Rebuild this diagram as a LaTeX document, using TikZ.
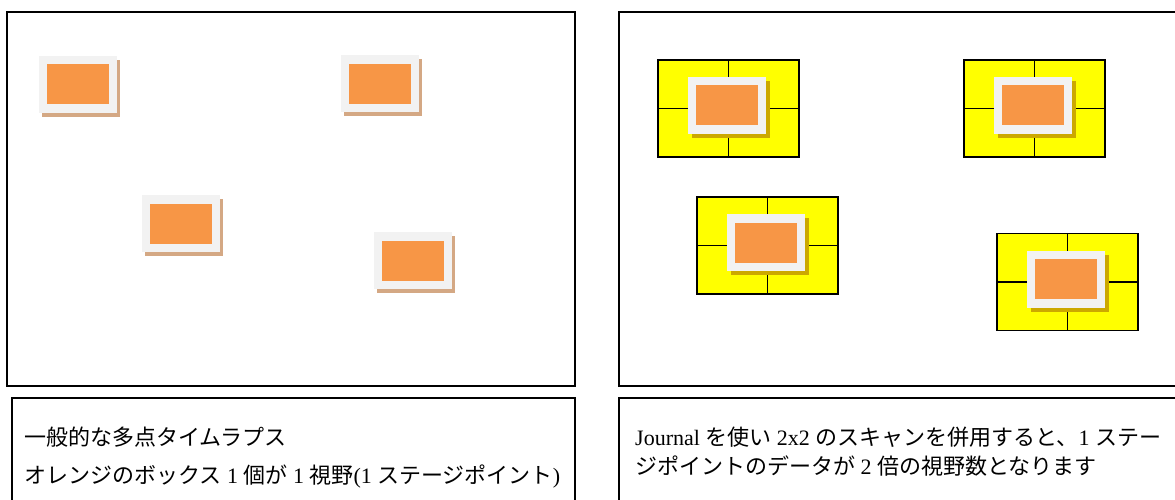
\documentclass[tikz,border=0pt]{standalone}
\usepackage{fontspec}
\setmainfont{Liberation Serif}
\newfontfamily\jp{Noto Sans CJK JP}
\definecolor{frameW}{HTML}{F2F2F2}
\definecolor{orangeF}{HTML}{F79646}
\definecolor{tanS}{HTML}{D4A884}
\definecolor{ylw}{HTML}{FFFF00}
\definecolor{ylwS}{HTML}{CCA800}
\tikzset{
  panel/.style={draw=black, line width=1.5pt, fill=white},
  frameb/.style={fill=frameW, draw=none, minimum width=78pt, minimum height=57pt, inner sep=0pt},
  shadowb/.style={draw=none, minimum width=78pt, minimum height=57pt, inner sep=0pt},
  orangeb/.style={fill=orangeF, draw=none, minimum width=62pt, minimum height=40pt, inner sep=0pt},
  gridb/.style={fill=ylw, draw=black, line width=1.3pt, minimum width=141pt, minimum height=97pt, inner sep=0pt},
  gridline/.style={draw=black, line width=1.3pt},
  txtl/.style={anchor=west, inner sep=0pt, font=\fontsize{22}{26}\selectfont}
}
\begin{document}
\begin{tikzpicture}[x=1pt,y=-1pt]
\useasboundingbox (0,0) rectangle (1175,500);
\clip (0,0) rectangle (1175,500);
% panels
\draw[panel] (7,12) rectangle (575,386);
\draw[panel] (619,12) rectangle (1185,386);
\draw[panel] (12,398) rectangle (575,510);
\draw[panel] (619,398) rectangle (1185,510);
% left markers
\foreach \n/\cx/\cy in {a/78/84.5, b/379.5/84, c/180.5/223.5, d/413/260.5}{
  \node[shadowb, fill=tanS] (s\n) at (\cx+3,\cy+4) {};
  \node[frameb] (f\n) at (\cx,\cy) {};
  \node[orangeb] (o\n) at (f\n.center) {};
}
% right grids
\foreach \n/\cx/\cy in {e/728.5/108.5, f/1034.5/108.5, g/767.5/245.5, h/1067.5/282}{
  \node[gridb] (g\n) at (\cx,\cy) {};
  \draw[gridline] (g\n.north) -- (g\n.south);
  \draw[gridline] (g\n.west) -- (g\n.east);
  \node[shadowb, fill=ylwS] (s\n) at (\cx+2,\cy+1) {};
  \node[frameb] (f\n) at (\cx-2,\cy-3) {};
  \node[orangeb] (o\n) at (f\n.center) {};
}
% texts
\node[txtl] (t1) at (24,437) {\jp 一般的な多点タイムラプス};
\node[txtl] (t2) at (24,476) {{\jp オレンジのボックス} 1 {\jp 個が} 1 {\jp 視野}(1 {\jp ステージポイント})};
\node[txtl] (t3) at (635,437) {Journal {\jp を使い} 2x2 {\jp のスキャンを併用すると、}1 {\jp ステー}};
\node[txtl] (t4) at (635,466) {{\jp ジポイントのデータが} 2 {\jp 倍の視野数となります}};
\end{tikzpicture}
\end{document}
